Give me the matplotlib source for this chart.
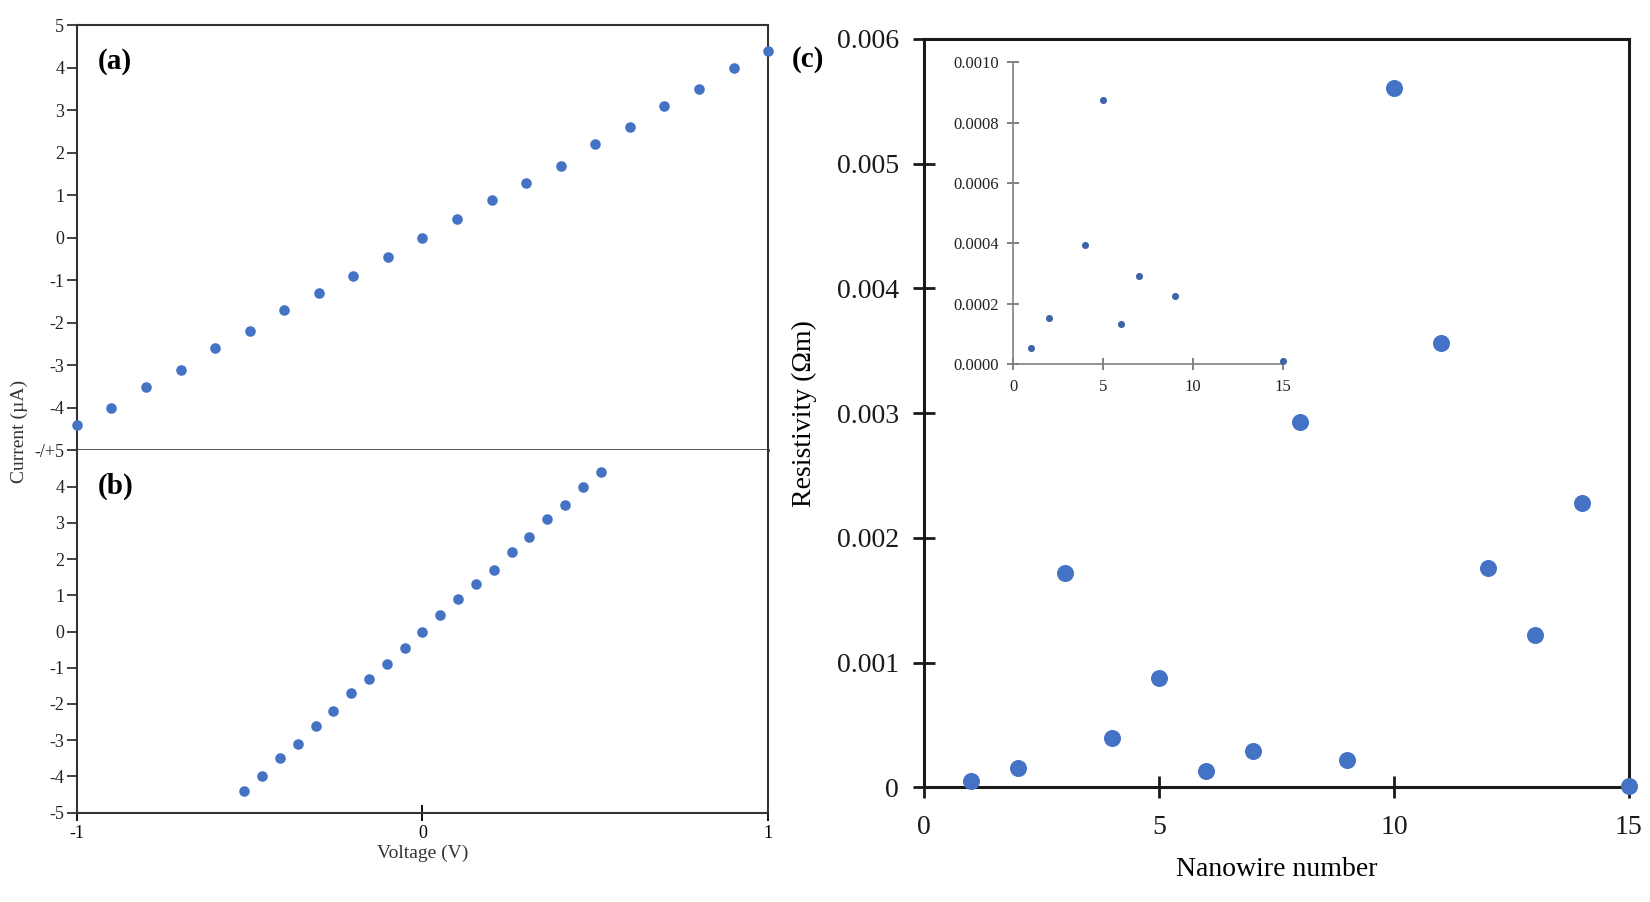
import numpy as np
import matplotlib
matplotlib.use('Agg')
import matplotlib.pyplot as plt

plt.rcParams['font.family'] = ['Liberation Serif', 'DejaVu Serif']
plt.rcParams['axes.unicode_minus'] = False

# I-V data, panel (a) and (b): same currents, different voltage sweeps
volt_a = [-1.0, -0.9, -0.8, -0.7, -0.6, -0.5, -0.4, -0.3, -0.2, -0.1, 0.0,
          0.1, 0.2, 0.3, 0.4, 0.5, 0.6, 0.7, 0.8, 0.9, 1.0]
volt_b = [-0.515, -0.464, -0.412, -0.361, -0.309, -0.258, -0.206, -0.155, -0.103, -0.052, 0.0,
          0.052, 0.103, 0.155, 0.206, 0.258, 0.309, 0.361, 0.412, 0.464, 0.515]
current = [-4.4, -4.0, -3.5, -3.1, -2.6, -2.2, -1.7, -1.3, -0.9, -0.45, 0.0,
           0.45, 0.9, 1.3, 1.7, 2.2, 2.6, 3.1, 3.5, 4.0, 4.4]

# resistivity per nanowire, panel (c)
wire = [1, 2, 3, 4, 5, 6, 7, 8, 9, 10, 11, 12, 13, 14, 15]
resist = [0.00005, 0.000155, 0.00172, 0.000396, 0.000875, 0.000133, 0.00029, 0.00293,
          0.000222, 0.00561, 0.00356, 0.00176, 0.00122, 0.00228, 0.00001]
# inset only shows the low ones
inset_wire = [1, 2, 4, 5, 6, 7, 9, 15]
inset_res = [0.000052, 0.000154, 0.000396, 0.000875, 0.000133, 0.000292, 0.000225, 0.00001]

blue = '#4472c4'
W, H = 1568.0, 857.0

fig = plt.figure(figsize=(16.5, 9.02), dpi=100)

def box(l, t, r, b):
    return [l / W, 1 - b / H, (r - l) / W, (b - t) / H]

ax_a = fig.add_axes(box(73, 24, 730, 428))
ax_b = fig.add_axes(box(73, 428, 730, 772))

for ax in (ax_a, ax_b):
    for s in ax.spines.values():
        s.set_color('#333333')
        s.set_linewidth(1.5)
    ax.set_xlim(-1, 1)
    ax.set_ylim(-5, 5)
    ax.tick_params(axis='y', direction='out', length=7, width=1.3, labelsize=13, pad=2, colors='#333333')
    ax.tick_params(axis='y', labelcolor='#222222')

ax_a.scatter(volt_a, current, s=58, color=blue, clip_on=False, zorder=3, linewidths=0)
ax_a.set_yticks([5, 4, 3, 2, 1, 0, -1, -2, -3, -4, -5])
ax_a.set_yticklabels(['5', '4', '3', '2', '1', '0', '-1', '-2', '-3', '-4', '-/+5'])
ax_a.set_xticks([])
ax_a.spines['bottom'].set_color('#444444')
ax_a.spines['bottom'].set_linewidth(2)
ax_a.text(0.03, 0.915, '(a)', transform=ax_a.transAxes, fontsize=21, fontweight='bold', va='center')

ax_b.scatter(volt_b, current, s=58, color=blue, clip_on=False, zorder=3, linewidths=0)
ax_b.set_yticks([4, 3, 2, 1, 0, -1, -2, -3, -4, -5])
ax_b.set_xticks([-1, 0, 1])
ax_b.set_xticklabels(['-1', '0', '1'])
ax_b.tick_params(axis='x', direction='inout', length=12, width=1.3, labelsize=13, pad=3)
ax_b.spines['top'].set_visible(False)
ax_b.text(0.03, 0.9, '(b)', transform=ax_b.transAxes, fontsize=21, fontweight='bold', va='center')
ax_b.set_xlabel('Voltage (V)', fontsize=14, labelpad=2, color='#333333')
fig.text(18 / W, 1 - 410 / H, 'Current (µA)', rotation=90, fontsize=14,
         ha='center', va='center', color='#333333')

# panel (c)
ax_c = fig.add_axes(box(878, 37, 1548, 748))
ax_c.scatter(wire, resist, s=150, color=blue, clip_on=False, zorder=3, linewidths=0)
ax_c.set_xlim(0, 15)
ax_c.set_ylim(0, 0.006)
ax_c.set_xticks([0, 5, 10, 15])
ax_c.set_yticks([0, 0.001, 0.002, 0.003, 0.004, 0.005, 0.006])
ax_c.set_yticklabels(['0', '0.001', '0.002', '0.003', '0.004', '0.005', '0.006'])
for s in ax_c.spines.values():
    s.set_linewidth(2.2)
    s.set_color('#1a1a1a')
ax_c.tick_params(direction='inout', length=16, width=2, labelsize=20, colors='#1a1a1a')
ax_c.tick_params(axis='x', pad=12)
ax_c.tick_params(axis='y', pad=10)
ax_c.set_xlabel('Nanowire number', fontsize=20, labelpad=12)
ax_c.set_ylabel('Resistivity (Ωm)', fontsize=20, labelpad=14)
fig.text(752 / W, 1 - 57 / H, '(c)', fontsize=21, fontweight='bold', va='center', ha='left')

# inset
ax_in = fig.add_axes(box(963, 59, 1219, 346))
ax_in.scatter(inset_wire, inset_res, s=26, color='#3f64a8', clip_on=False, zorder=3, linewidths=0)
ax_in.set_xlim(0, 15)
ax_in.set_ylim(0, 0.001)
ax_in.set_xticks([0, 5, 10, 15])
ax_in.set_yticks([0, 0.0002, 0.0004, 0.0006, 0.0008, 0.001])
ax_in.set_yticklabels(['0.0000', '0.0002', '0.0004', '0.0006', '0.0008', '0.0010'])
ax_in.spines['top'].set_visible(False)
ax_in.spines['right'].set_visible(False)
for s in ('left', 'bottom'):
    ax_in.spines[s].set_color('#808080')
    ax_in.spines[s].set_linewidth(1.2)
ax_in.tick_params(direction='inout', length=9, width=1.1, color='#606060',
                  labelsize=12, labelcolor='#222222')
ax_in.tick_params(axis='y', pad=6)
ax_in.tick_params(axis='x', pad=6)
ax_in.patch.set_alpha(0)

fig.savefig('out.png', dpi=100)
